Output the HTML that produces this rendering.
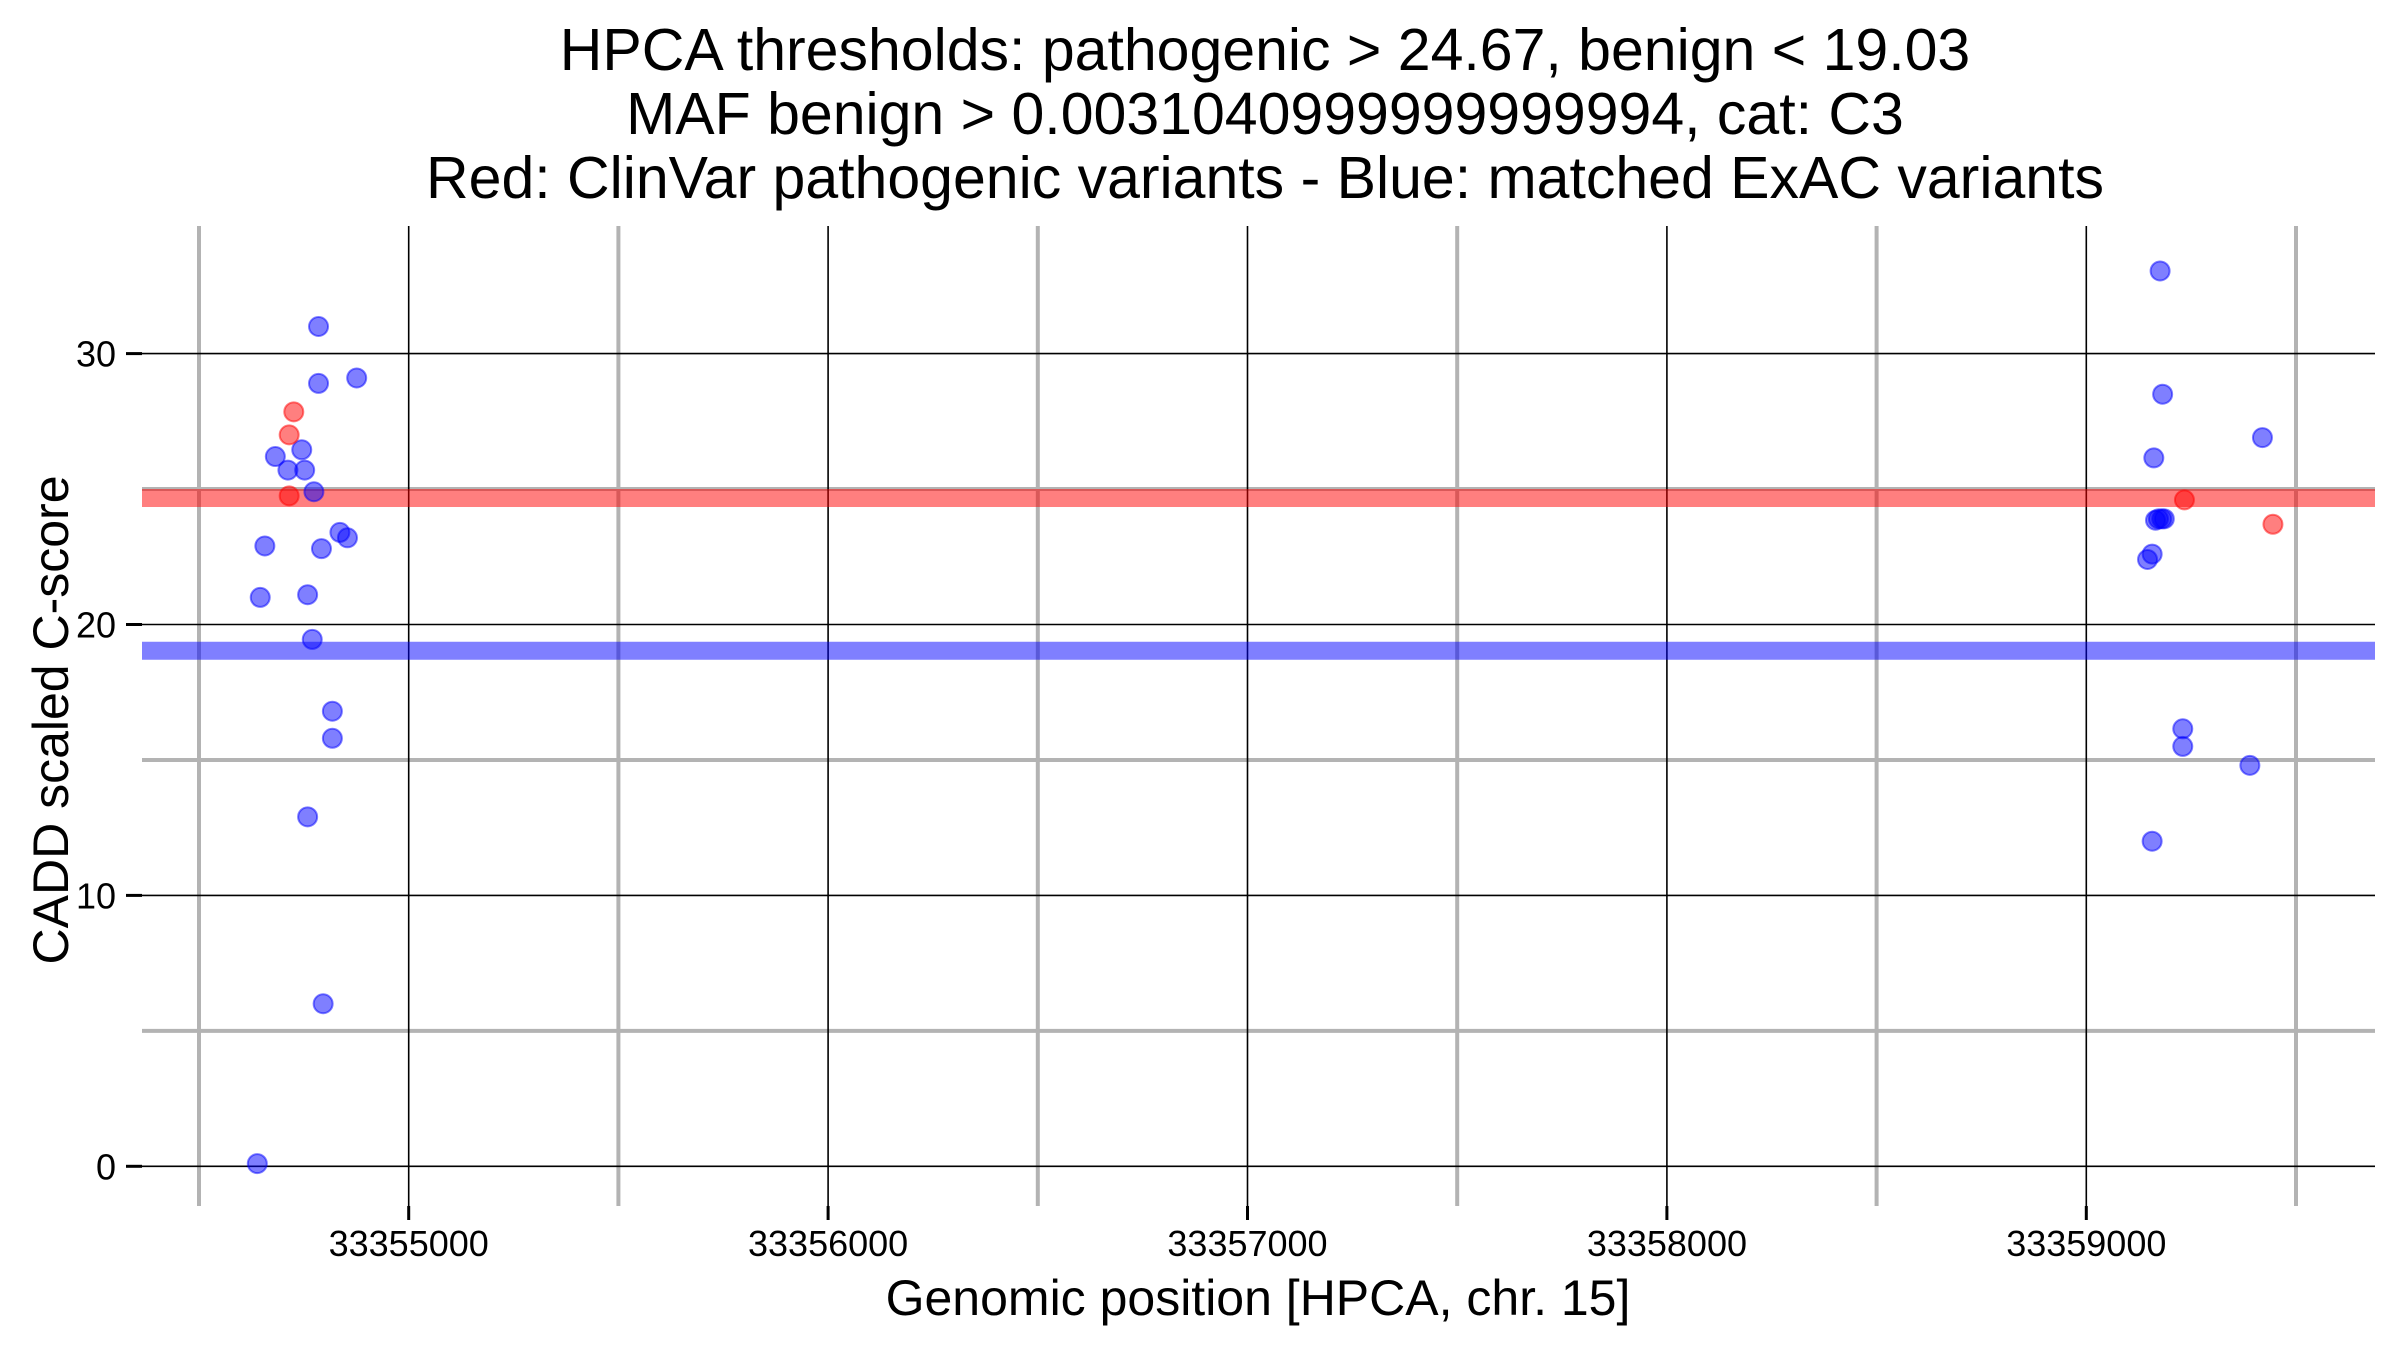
<!DOCTYPE html>
<html><head><meta charset="utf-8"><style>
html,body{margin:0;padding:0;background:#fff;}
svg{display:block;font-family:"Liberation Sans",sans-serif;}
</style></head><body>
<svg id="chart" width="2400" height="1350" viewBox="0 0 2400 1350">
<g font-size="59" text-anchor="middle" fill="#000">
<text x="1265" y="70">HPCA thresholds: pathogenic &gt; 24.67, benign &lt; 19.03</text>
<text x="1265" y="134">MAF benign &gt; 0.0031040999999999994, cat: C3</text>
<text x="1265" y="198">Red: ClinVar pathogenic variants - Blue: matched ExAC variants</text>
</g>
<g id="grid"></g>
<g id="bands"></g>
<g id="points"></g>
<g id="axes"></g>
<text x="1258" y="1315" font-size="50" text-anchor="middle">Genomic position [HPCA, chr. 15]</text>
<text transform="translate(68,720) rotate(-90)" font-size="50" text-anchor="middle">CADD scaled C-score</text>
</svg>
<script>
const xMajorTicks = [33355000, 33356000, 33357000, 33358000, 33359000];
const xMinorTicks = [33354500, 33355500, 33356500, 33357500, 33358500, 33359500];
const yMajorTicks = [0, 10, 20, 30];
const yMinorTicks = [5, 15, 25];
const thresholdValues = [24.67, 19.03];
const thresholdColors = ["#ff0000", "#0000ff"];
const blueX = [33354785,33354785,33354876,33354682,33354745,33354712,33354752,33354774,33354657,33354792,33354836,33354854,33354646,33354759,33354770,33354818,33354818,33354759,33354796,33354639,
 33359176,33359182,33359420,33359161,33359165,33359172,33359180,33359186,33359157,33359146,33359230,33359230,33359390,33359157];
const blueY = [31.0,28.9,29.1,26.2,26.45,25.7,25.7,24.9,22.9,22.8,23.4,23.2,21.0,21.1,19.45,16.8,15.8,12.9,6.0,0.1,
 33.05,28.5,26.9,26.15,23.85,23.9,23.9,23.9,22.6,22.4,16.15,15.5,14.8,12.0];
const redX = [33354726,33354715,33354715,33359234,33359445];
const redY = [27.85,27.0,24.75,24.6,23.7];

const NS="http://www.w3.org/2000/svg";
const L=142,R=2375,T=226,B=1206;
function xs(v){return 408.7+(v-33355000)*0.4194;}
function ys(v){return 1166.3-v*27.09;}
function mk(tag,attrs,parent){const e=document.createElementNS(NS,tag);for(const k in attrs)e.setAttribute(k,attrs[k]);parent.appendChild(e);return e;}
const grid=document.getElementById('grid'),bands=document.getElementById('bands'),pts=document.getElementById('points'),axes=document.getElementById('axes');
yMinorTicks.forEach(v=>{const e=mk('line',{x1:L,x2:R,y1:ys(v),y2:ys(v),stroke:'#b3b3b3','stroke-width':4},grid);

});
xMinorTicks.forEach(v=>{const e=mk('line',{x1:xs(v),x2:xs(v),y1:T,y2:B,stroke:'#b3b3b3','stroke-width':4},grid);

});
yMajorTicks.forEach(v=>{const e=mk('line',{x1:L,x2:R,y1:ys(v),y2:ys(v),stroke:'#000','stroke-width':1.6},grid);


const t=mk('line',{x1:L-16,x2:L,y1:ys(v),y2:ys(v),stroke:'#000','stroke-width':3},axes);


const lb=mk('text',{x:L-26,y:ys(v)+13,'font-size':36,'text-anchor':'end'},axes);lb.textContent=v;

});
xMajorTicks.forEach(v=>{const e=mk('line',{x1:xs(v),x2:xs(v),y1:T,y2:B,stroke:'#000','stroke-width':1.6},grid);


const t=mk('line',{x1:xs(v),x2:xs(v),y1:B,y2:B+14,stroke:'#000','stroke-width':3},axes);


const lb=mk('text',{x:xs(v),y:B+50,'font-size':36,'text-anchor':'middle'},axes);lb.textContent=v;

});
thresholdValues.forEach((v,i)=>{const e=mk('line',{x1:L,x2:R,y1:ys(v),y2:ys(v),stroke:thresholdColors[i],'stroke-opacity':0.5,'stroke-width':18},bands);

});
blueX.forEach((x,i)=>{const c=mk('circle',{cx:xs(x),cy:ys(blueY[i]),r:9.5,fill:'rgba(0,0,255,0.5)',stroke:'rgba(0,0,255,0.5)','stroke-width':2},pts);

});
redX.forEach((x,i)=>{const c=mk('circle',{cx:xs(x),cy:ys(redY[i]),r:9.5,fill:'rgba(255,0,0,0.5)',stroke:'rgba(255,0,0,0.5)','stroke-width':2},pts);

});
</script>
</body></html>
